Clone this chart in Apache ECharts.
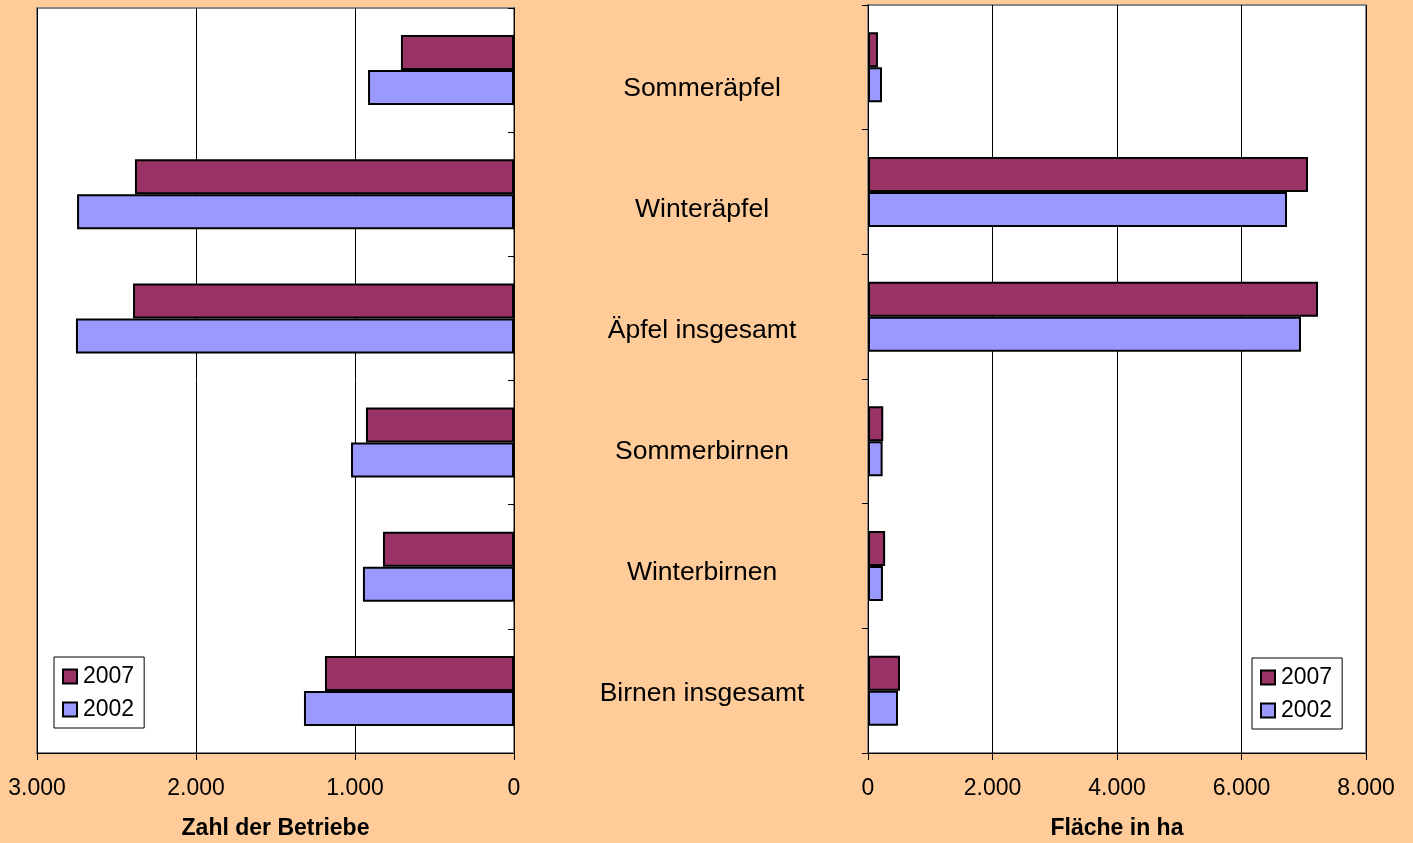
<!DOCTYPE html>
<html><head><meta charset="utf-8">
<script src="https://cdn.jsdelivr.net/npm/echarts@6/dist/echarts.min.js"></script>
<style>html,body{margin:0;padding:0;background:#FFCC99;}#c{width:1413px;height:843px;}</style>
</head><body><div id="c"></div>
<script>
const categories = ['Sommeräpfel','Winteräpfel','Äpfel insgesamt','Sommerbirnen','Winterbirnen','Birnen insgesamt'];
const betriebe2007 = [711, 2384, 2396, 931, 824, 1189];
const betriebe2002 = [918, 2748, 2755, 1025, 950, 1321];
const flaeche2007 = [160, 7068, 7229, 245, 275, 514];
const flaeche2002 = [225, 6731, 6956, 235, 240, 482];
const leftTicks = {min: 0, max: 3000, interval: 1000};
const rightTicks = {min: 0, max: 8000, interval: 2000};

const FONT = 'Liberation Sans, Arial, sans-serif';
const fmt = v => String(v).replace(/\B(?=(\d{3})+(?!\d))/g, '.');
const c2007 = '#993366', c2002 = '#9999FF';

const chart = echarts.init(document.getElementById('c'), null, {renderer: 'canvas'});
const xAxisCommon = {
  type: 'value', position: 'bottom',
  axisLine: {show: true, onZero: false, lineStyle: {color: '#000', width: 1}},
  axisTick: {show: true, inside: false, length: 7, lineStyle: {color: '#000'}},
  axisLabel: {color: '#000', fontSize: 23, fontFamily: FONT, margin: 24, formatter: fmt},
  splitLine: {show: true, lineStyle: {color: '#000', width: 1}},
  nameLocation: 'middle', nameGap: 64,
  nameTextStyle: {color: '#000', fontSize: 23, fontWeight: 'bold', fontFamily: FONT}
};
const legendCommon = {
  data: ['2007', '2002'], orient: 'vertical', backgroundColor: '#fff', borderColor: '#000', borderWidth: 1,
  padding: [8, 10, 7, 8], itemGap: 10, itemWidth: 14, itemHeight: 14, icon: 'rect',
  textStyle: {fontSize: 23, fontFamily: FONT, color: '#000', padding: [0, 0, 0, 1]}
};
const barCommon = {type: 'bar', barWidth: 35, barGap: '0%'};
chart.setOption({
  backgroundColor: '#FFCC99',
  animation: false,
  grid: [
    {left: 37, right: 1413 - 514, top: 8, bottom: 843 - 753, show: true, backgroundColor: '#fff', borderColor: '#888', borderWidth: 2, outerBoundsMode: 'none', containLabel: false},
    {left: 868, right: 1413 - 1366, top: 5, bottom: 843 - 753, show: true, backgroundColor: '#fff', borderColor: '#888', borderWidth: 2, outerBoundsMode: 'none', containLabel: false},
    {left: 520, right: 1413 - 862, top: 28.5, bottom: 843 - 754.5, show: false, outerBoundsMode: 'none', containLabel: false}
  ],
  legend: [
    Object.assign({}, legendCommon, {left: 54, top: 657}),
    Object.assign({}, legendCommon, {left: 1252, top: 658})
  ],
  xAxis: [
    Object.assign({}, xAxisCommon, {gridIndex: 0, inverse: true, name: 'Zahl der Betriebe'}, leftTicks),
    Object.assign({}, xAxisCommon, {gridIndex: 1, name: 'Fläche in ha'}, rightTicks),
    {type: 'value', gridIndex: 2, show: false, min: 0, max: 1}
  ],
  yAxis: [
    {type: 'category', gridIndex: 0, data: categories, inverse: true, position: 'right',
     axisLine: {show: true, lineStyle: {color: '#000'}},
     axisTick: {show: true, inside: true, length: 6, lineStyle: {color: '#000'}},
     axisLabel: {show: false}, splitLine: {show: false}},
    {type: 'category', gridIndex: 1, data: categories, inverse: true, position: 'left',
     axisLine: {show: true, lineStyle: {color: '#000'}},
     axisTick: {show: true, inside: false, length: 6, lineStyle: {color: '#000'}},
     axisLabel: {show: false}, splitLine: {show: false}},
    {type: 'category', gridIndex: 2, data: categories, inverse: true, position: 'left',
     axisLine: {show: false}, axisTick: {show: false}, splitLine: {show: false},
     axisLabel: {show: true, align: 'center', margin: -182, color: '#000', fontSize: 26.5, fontFamily: FONT}}
  ],
  series: [
    Object.assign({}, barCommon, {name: '2007', xAxisIndex: 0, yAxisIndex: 0, data: betriebe2007, itemStyle: {color: c2007, borderColor: '#000', borderWidth: 2}}),
    Object.assign({}, barCommon, {name: '2002', xAxisIndex: 0, yAxisIndex: 0, data: betriebe2002, itemStyle: {color: c2002, borderColor: '#000', borderWidth: 2}}),
    Object.assign({}, barCommon, {name: '2007', xAxisIndex: 1, yAxisIndex: 1, data: flaeche2007, itemStyle: {color: c2007, borderColor: '#000', borderWidth: 2}}),
    Object.assign({}, barCommon, {name: '2002', xAxisIndex: 1, yAxisIndex: 1, data: flaeche2002, itemStyle: {color: c2002, borderColor: '#000', borderWidth: 2}})
  ]
});
</script></body></html>
